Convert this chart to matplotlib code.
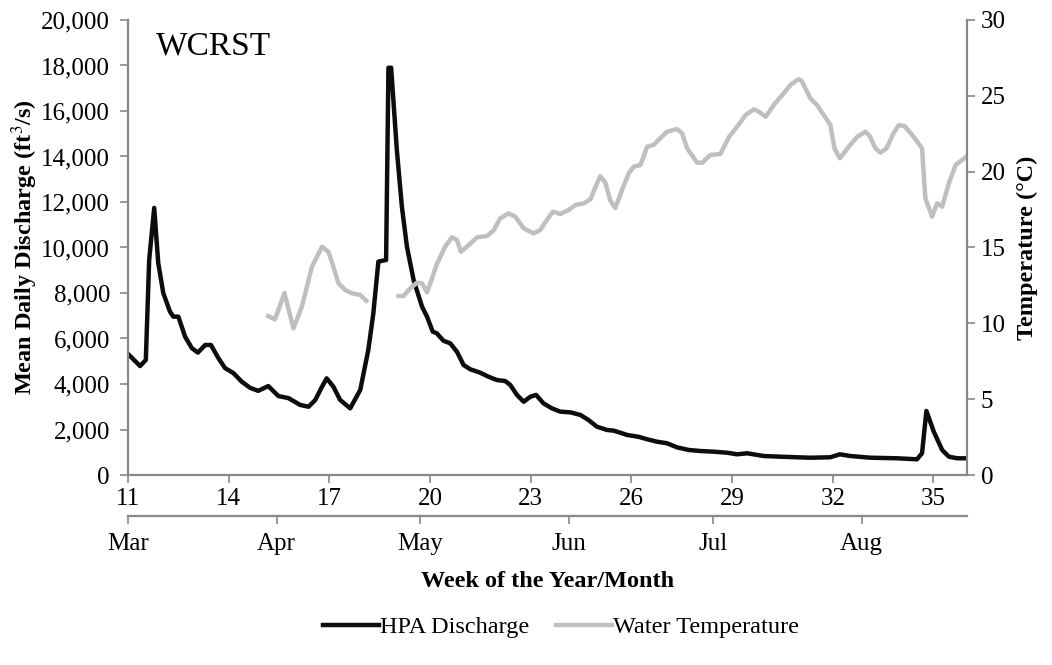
import matplotlib
matplotlib.use("Agg")
import matplotlib.pyplot as plt
import numpy as np
from matplotlib.ticker import FuncFormatter, MultipleLocator

plt.rcParams['font.family'] = ['Liberation Serif', 'DejaVu Serif']
plt.rcParams['mathtext.fontset'] = 'stix'

# week of year (fractional) and mean daily discharge, ft3/s
q_week = [11.00, 11.36, 11.53, 11.63, 11.78, 11.90, 12.05, 12.25, 12.35, 12.50,
          12.70, 12.90, 13.08, 13.30, 13.47, 13.69, 13.89, 14.14, 14.39, 14.64,
          14.88, 15.18, 15.48, 15.78, 16.13, 16.38, 16.58, 16.78, 16.92, 17.12,
          17.32, 17.62, 17.92, 18.16, 18.31, 18.46, 18.69, 18.76, 18.84, 19.01,
          19.16, 19.31, 19.51, 19.76, 19.91, 20.08, 20.20, 20.40, 20.60, 20.80,
          21.00, 21.20, 21.49, 21.74, 21.99, 22.24, 22.39, 22.59, 22.79, 22.99,
          23.16, 23.38, 23.63, 23.88, 24.18, 24.48, 24.72, 24.97, 25.27, 25.47,
          25.67, 25.87, 26.21, 26.47, 26.76, 27.06, 27.36, 27.71, 28.05, 28.45,
          28.85, 29.15, 29.45, 29.94, 30.44, 31.33, 31.93, 32.21, 32.53, 33.12,
          33.92, 34.51, 34.66, 34.79, 35.01, 35.26, 35.46, 35.71, 36.00]
discharge = [5320, 4790, 5055, 9450, 11740, 9320, 8000, 7180, 6960, 6960,
             6080, 5580, 5380, 5715, 5715, 5145, 4700, 4480, 4100, 3830,
             3700, 3910, 3470, 3380, 3080, 3000, 3300, 3880, 4250, 3880,
             3300, 2930, 3740, 5500, 7110, 9380, 9450, 17900, 17900, 14290,
             11800, 10040, 8570, 7400, 6960, 6300, 6230, 5900, 5790, 5420,
             4835, 4645, 4500, 4320, 4175, 4130, 3960, 3520, 3220, 3440,
             3520, 3150, 2930, 2785, 2755, 2640, 2420, 2125, 1980, 1950,
             1860, 1760, 1680, 1570, 1465, 1395, 1215, 1100, 1055, 1025,
             980, 910, 955, 835, 805, 760, 780, 910, 835, 760,
             735, 690, 955, 2815, 1905, 1100, 805, 735, 735]

# water temperature, deg C (gap = missing record)
t_week = [15.18, 15.38, 15.66, 15.93, 16.18, 16.48, 16.78, 16.97, 17.12, 17.27,
          17.47, 17.67, 17.92, 18.10, 18.50, 19.06, 19.21, 19.41, 19.61, 19.76,
          19.91, 20.05, 20.20, 20.45, 20.65, 20.80, 20.92, 21.15, 21.40, 21.70,
          21.90, 22.09, 22.34, 22.54, 22.79, 23.09, 23.28, 23.48, 23.66, 23.88,
          24.13, 24.33, 24.58, 24.78, 24.93, 25.07, 25.22, 25.37, 25.52, 25.72,
          25.92, 26.07, 26.27, 26.47, 26.66, 26.86, 27.06, 27.36, 27.51, 27.66,
          27.96, 28.11, 28.35, 28.65, 28.90, 29.15, 29.40, 29.65, 29.80, 30.00,
          30.24, 30.54, 30.74, 30.97, 31.07, 31.33, 31.53, 31.73, 31.93, 32.05,
          32.21, 32.48, 32.73, 32.97, 33.10, 33.27, 33.42, 33.60, 33.82, 33.97,
          34.14, 34.37, 34.66, 34.76, 34.96, 35.11, 35.26, 35.46, 35.66, 35.96]
temperature = [10.48, 10.26, 12.0, 9.67, 11.1, 13.73, 15.05, 14.72, 13.73, 12.64,
               12.2, 11.98, 11.87, 11.49, np.nan, 11.8, 11.8, 12.31, 12.68, 12.64,
               12.05, 12.9, 13.9, 15.05, 15.67, 15.5, 14.72, 15.16, 15.67, 15.76,
               16.15, 16.92, 17.25, 17.03, 16.26, 15.93, 16.15, 16.81, 17.36, 17.21,
               17.47, 17.80, 17.91, 18.18, 19.0, 19.7, 19.3, 18.1, 17.6, 18.79,
               19.89, 20.33, 20.44, 21.65, 21.76, 22.2, 22.63, 22.81, 22.53, 21.54,
               20.59, 20.59, 21.1, 21.16, 22.26, 22.96, 23.73, 24.11, 23.95, 23.62,
               24.39, 25.17, 25.71, 26.09, 26.0, 24.84, 24.39, 23.73, 23.07, 21.54,
               20.88, 21.65, 22.3, 22.63, 22.35, 21.54, 21.25, 21.54, 22.57, 23.07,
               23.0, 22.41, 21.54, 18.24, 17.03, 17.91, 17.69, 19.23, 20.44, 20.95]

week_ticks = [11, 14, 17, 20, 23, 26, 29, 32, 35]
months = ['Mar', 'Apr', 'May', 'Jun', 'Jul', 'Aug']
month_start_day = [0, 31, 61, 92, 122, 153]  # days after 1 March

spine_col = '#888888'
fs = 17.5

fig = plt.figure(figsize=(10.52, 6.65), dpi=100)
ax = fig.add_axes([0.1217, 0.2857, 0.7975, 0.6843])

ax.plot(q_week, discharge, color='#0d0d0d', lw=3.2, solid_joinstyle='round',
        label='HPA Discharge')
ax.set_xlim(11, 36)
ax.set_ylim(0, 20000)
ax.yaxis.set_major_locator(MultipleLocator(2000))
ax.yaxis.set_major_formatter(FuncFormatter(lambda v, p: f'{int(v):,}'))
ax.set_xticks(week_ticks)
ax.set_ylabel('Mean Daily Discharge (ft$^3$/s)', fontsize=fs, fontweight='bold',
              labelpad=1)

ax_t = ax.twinx()
ax_t.plot(t_week, temperature, color='#bfbfbf', lw=3.2, solid_joinstyle='round',
          label='Water Temperature')
ax_t.set_ylim(0, 30)
ax_t.yaxis.set_major_locator(MultipleLocator(5))
ax_t.set_ylabel('Temperature (°C)', fontsize=fs, fontweight='bold', labelpad=8)

# month axis below the week axis
ax_m = ax.twiny()
ax_m.set_xlim(11, 36)
ax_m.xaxis.set_ticks_position('bottom')
ax_m.xaxis.set_label_position('bottom')
ax_m.spines['bottom'].set_position(('axes', -0.09))
ax_m.set_xticks([11 + d / 7 for d in month_start_day])
ax_m.set_xticklabels(months)
ax_m.set_xlabel('Week of the Year/Month', fontsize=fs, fontweight='bold',
                labelpad=12)

for a in (ax, ax_t, ax_m):
    for s in a.spines.values():
        s.set_visible(False)
    a.tick_params(colors=spine_col, labelcolor='black', labelsize=18,
                  length=6, width=1.2, direction='out')
ax.spines['left'].set_visible(True)
ax.spines['bottom'].set_visible(True)
ax_t.spines['right'].set_visible(True)
ax_m.spines['bottom'].set_visible(True)
for s in (ax.spines['left'], ax.spines['bottom'], ax_t.spines['right'],
          ax_m.spines['bottom']):
    s.set_color(spine_col)
    s.set_linewidth(1.6)
ax.tick_params(axis='x', pad=3)
ax.tick_params(axis='y', pad=7)
ax_t.tick_params(axis='y', pad=4)
ax_m.tick_params(axis='x', pad=6)

ax.text(0.033, 0.975, 'WCRST', transform=ax.transAxes, fontsize=24,
        va='top', ha='left')

handles = ax.get_lines() + ax_t.get_lines()
fig.legend(handles, [h.get_label() for h in handles], loc='center',
           bbox_to_anchor=(0.533, 0.057), ncol=2, frameon=False, fontsize=fs,
           handlelength=2.3, handletextpad=0.05, columnspacing=1.1)

fig.savefig('out.png', dpi=100)
